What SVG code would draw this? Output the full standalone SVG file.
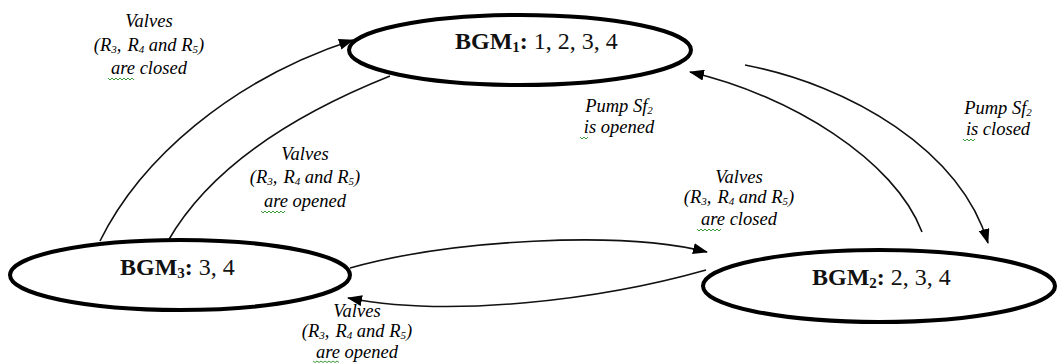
<svg xmlns="http://www.w3.org/2000/svg" width="1057" height="363" viewBox="0 0 1057 363">
  <style>
    .state { fill: #fff; stroke: #000; stroke-width: 4; }
    .title { font-family: "Liberation Serif", "Times New Roman", serif; font-size: 24px; fill: #111; }
    .title .b { font-weight: bold; }
    .title .sub { font-size: 15px; }
    .edge { fill: none; stroke: #111; stroke-width: 1.6; }
    .lbl { font-family: "Liberation Serif", "Times New Roman", serif; font-style: italic; font-size: 18.5px; fill: #000; text-anchor: middle; }
    .lbl .sub { font-size: 11px; }
    .squiggle { fill: none; stroke: #3c9a3c; stroke-width: 1; }
  </style>
  <defs>
    <marker id="arrow" markerUnits="userSpaceOnUse" markerWidth="15" markerHeight="11" refX="14" refY="5.5" orient="auto">
      <path d="M0,0 L15,5.5 L0,11 Z" fill="#000"/>
    </marker>
  </defs>

  <rect width="1057" height="363" fill="#fff"/>

  <!-- transitions between the bond graph models -->
  <g id="connectors">
    <path class="edge" d="M100,241 C140,160 230,80 353,40" marker-end="url(#arrow)"/>
    <path class="edge" d="M390,76 C330,100 220,150 168,241"/>
    <path class="edge" d="M350,268 C450,240 620,230 707,252" marker-end="url(#arrow)"/>
    <path class="edge" d="M706,270 C600,300 450,318 348,298" marker-end="url(#arrow)"/>
    <path class="edge" d="M922,232 C895,160 790,95 690,72" marker-end="url(#arrow)"/>
    <path class="edge" d="M745,65 C850,85 960,150 988,243" marker-end="url(#arrow)"/>
  </g>

  <g id="bgm1">
    <ellipse class="state" cx="520" cy="50" rx="171" ry="35"/>
    <text class="title" x="455" y="49"><tspan class="b">BGM</tspan><tspan class="b sub" dy="3">1</tspan><tspan class="b" dy="-3">:</tspan> 1, 2, 3, 4</text>
  </g>

  <g id="bgm2">
    <ellipse class="state" cx="879" cy="286" rx="176" ry="36"/>
    <text class="title" x="812" y="285"><tspan class="b">BGM</tspan><tspan class="b sub" dy="3">2</tspan><tspan class="b" dy="-3">:</tspan> 2, 3, 4</text>
  </g>

  <g id="bgm3">
    <ellipse class="state" cx="180" cy="275" rx="170" ry="35"/>
    <text class="title" x="120" y="275"><tspan class="b">BGM</tspan><tspan class="b sub" dy="3">3</tspan><tspan class="b" dy="-3">:</tspan> 3, 4</text>
  </g>

  <!-- edge labels -->
  <g id="labels">
    <text class="lbl" x="149" y="27">Valves</text>
    <text class="lbl" x="149" y="51">(R<tspan class="sub" dy="2">3</tspan><tspan dy="-2">,</tspan><tspan dx="6">R</tspan><tspan class="sub" dy="2">4</tspan><tspan dy="-2"> and R</tspan><tspan class="sub" dy="2">5</tspan><tspan dy="-2">)</tspan></text>
    <text class="lbl" x="149" y="74">are closed</text>

    <text class="lbl" x="305" y="160">Valves</text>
    <text class="lbl" x="305" y="183">(R<tspan class="sub" dy="2">3</tspan><tspan dy="-2">,</tspan><tspan dx="6">R</tspan><tspan class="sub" dy="2">4</tspan><tspan dy="-2"> and R</tspan><tspan class="sub" dy="2">5</tspan><tspan dy="-2">)</tspan></text>
    <text class="lbl" x="305" y="207">are opened</text>

    <text class="lbl" x="619" y="112">Pump Sf<tspan class="sub" dy="2">2</tspan></text>
    <text class="lbl" x="619" y="133">is opened</text>

    <text class="lbl" x="739" y="183">Valves</text>
    <text class="lbl" x="739" y="203">(R<tspan class="sub" dy="2">3</tspan><tspan dy="-2">,</tspan><tspan dx="6">R</tspan><tspan class="sub" dy="2">4</tspan><tspan dy="-2"> and R</tspan><tspan class="sub" dy="2">5</tspan><tspan dy="-2">)</tspan></text>
    <text class="lbl" x="739" y="225">are closed</text>

    <text class="lbl" x="998" y="114">Pump Sf<tspan class="sub" dy="2">2</tspan></text>
    <text class="lbl" x="998" y="135">is closed</text>

    <text class="lbl" x="357" y="317">Valves</text>
    <text class="lbl" x="357" y="337">(R<tspan class="sub" dy="2">3</tspan><tspan dy="-2">,</tspan><tspan dx="6">R</tspan><tspan class="sub" dy="2">4</tspan><tspan dy="-2"> and R</tspan><tspan class="sub" dy="2">5</tspan><tspan dy="-2">)</tspan></text>
    <text class="lbl" x="357" y="358">are opened</text>
  </g>

  <!-- spell-check underlines -->
  <g id="squiggles">
    <path class="squiggle" d="M108,78 l2,2 l2,-2 l2,2 l2,-2 l2,2 l2,-2 l2,2 l2,-2 l2,2 l2,-2 l2,2 l2,-2 l2,2"/>
    <path class="squiggle" d="M261,211 l2,2 l2,-2 l2,2 l2,-2 l2,2 l2,-2 l2,2 l2,-2 l2,2 l2,-2 l2,2 l2,-2"/>
    <path class="squiggle" d="M580,137 l2,2 l2,-2 l2,2 l2,-2"/>
    <path class="squiggle" d="M697,229 l2,2 l2,-2 l2,2 l2,-2 l2,2 l2,-2 l2,2 l2,-2 l2,2 l2,-2 l2,2 l2,-2"/>
    <path class="squiggle" d="M963,139 l2,2 l2,-2 l2,2 l2,-2 l2,2 l2,-2"/>
    <path class="squiggle" d="M313,361 l2,1.5 l2,-1.5 l2,1.5 l2,-1.5 l2,1.5 l2,-1.5 l2,1.5 l2,-1.5 l2,1.5 l2,-1.5 l2,1.5 l2,-1.5 l2,1.5"/>
  </g>
</svg>
